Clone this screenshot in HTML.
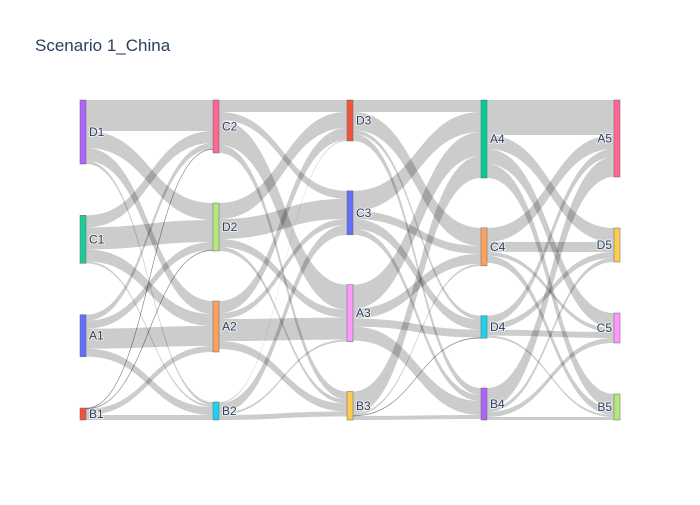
<!DOCTYPE html>
<html><head><meta charset="utf-8"><style>
body{margin:0;background:#fff}
svg{font-family:"Liberation Sans","Open Sans",sans-serif}
</style></head><body>
<svg id="chart" width="700" height="500">
<rect width="700" height="500" fill="#fff"/>
<text x="35" y="51" font-size="17" fill="#2a3f5f">Scenario 1_China</text>
<g id="links"></g><g id="nodes"></g>
</svg>
<script>
const nodeLabels = [["D1","C1","A1","B1"],["C2","D2","A2","B2"],["D3","C3","A3","B3"],["A4","C4","D4","B4"],["A5","D5","C5","B5"]];
const nodeColors = [["#ab63fa","#1fcb9a","#636efa","#ef553b"],["#ff6692","#b6e880","#ffa15a","#19d3f3"],["#ef553b","#636efa","#ff97ff","#fecb52"],["#00cc96","#ffa15a","#19d3f3","#ab63fa"],["#ff6692","#fecb52","#ff97ff","#b6e880"]];
// flows[c][i][j]: from node i in column c to node j in column c+1
const flows = [
 [[31,17,13,3],[12,22,12,2],[6,8,20,8],[0.5,0.5,6,5]],
 [[12,8,25,8],[16,20,8,4],[12,6,22,8],[1,10,2,5]],
 [[12,18,4,7],[20,8,10,6],[24,10,8,14],[22,2,0.5,4]],
 [[35,14,15,14],[14,10,4,7],[8,6,6,2],[20,4,5,3]]
];
const colX=[80,213,347,481,614], nodeW=6, yTop=100, yBottom=420;
const NS="http://www.w3.org/2000/svg";
const nCols=nodeLabels.length;
const heights=[];
for(let c=0;c<nCols;c++){heights.push(nodeLabels[c].map((_,i)=>{
  let out=c<nCols-1?flows[c][i].reduce((a,b)=>a+b,0):0;
  let inn=c>0?flows[c-1].reduce((a,r)=>a+r[i],0):0;return Math.max(out,inn);}));}
const ys=heights.map(h=>{const tot=h.reduce((a,b)=>a+b,0);const gap=(yBottom-yTop-tot)/(h.length-1);let y=yTop;return h.map(v=>{const r=y;y+=v+gap;return r;});});
const lg=document.getElementById('links'), ng=document.getElementById('nodes');
for(let c=0;c<nCols-1;c++){
  const outOff=ys[c].slice(), inOff=ys[c+1].slice();
  for(let i=0;i<nodeLabels[c].length;i++){
    for(let j=0;j<nodeLabels[c+1].length;j++){
      const v=flows[c][i][j]; const y0=outOff[i]; outOff[i]+=v;
      const y1=inOff[j]; inOff[j]+=v; if(v<=0) continue;
      const x0=colX[c]+nodeW, x1=colX[c+1], xm=(x0+x1)/2;
      const p=document.createElementNS(NS,'path');
      p.setAttribute('d',`M${x0},${y0}C${xm},${y0} ${xm},${y1} ${x1},${y1}L${x1},${y1+v}C${xm},${y1+v} ${xm},${y0+v} ${x0},${y0+v}Z`);
      p.setAttribute('fill','rgba(0,0,0,0.2)');
      if(v<1){p.setAttribute('stroke','rgba(0,0,0,0.35)');p.setAttribute('stroke-width','0.5');}
      
      
      lg.appendChild(p);
    }
  }
}
for(let c=0;c<nCols;c++){
  nodeLabels[c].forEach((lab,i)=>{
    const r=document.createElementNS(NS,'rect');
    r.setAttribute('x',colX[c]);r.setAttribute('y',ys[c][i]);
    r.setAttribute('width',nodeW);r.setAttribute('height',heights[c][i]);
    r.setAttribute('fill',nodeColors[c][i]);r.setAttribute('stroke','#666');r.setAttribute('stroke-width','0.5');
    
    
    ng.appendChild(r);
    const t=document.createElementNS(NS,'text');
    const last=c===nCols-1;
    t.setAttribute('x',last?colX[c]-2:colX[c]+nodeW+3);
    t.setAttribute('y',ys[c][i]+heights[c][i]/2+4);
    t.setAttribute('font-size','12');t.setAttribute('fill','#2a3f5f');
    t.setAttribute('text-anchor',last?'end':'start');
    t.setAttribute('style','paint-order:stroke;stroke:#fff;stroke-width:2px;stroke-opacity:0.6');
    t.textContent=lab;
    
    
    ng.appendChild(t);
  });
}
</script>
</body></html>
